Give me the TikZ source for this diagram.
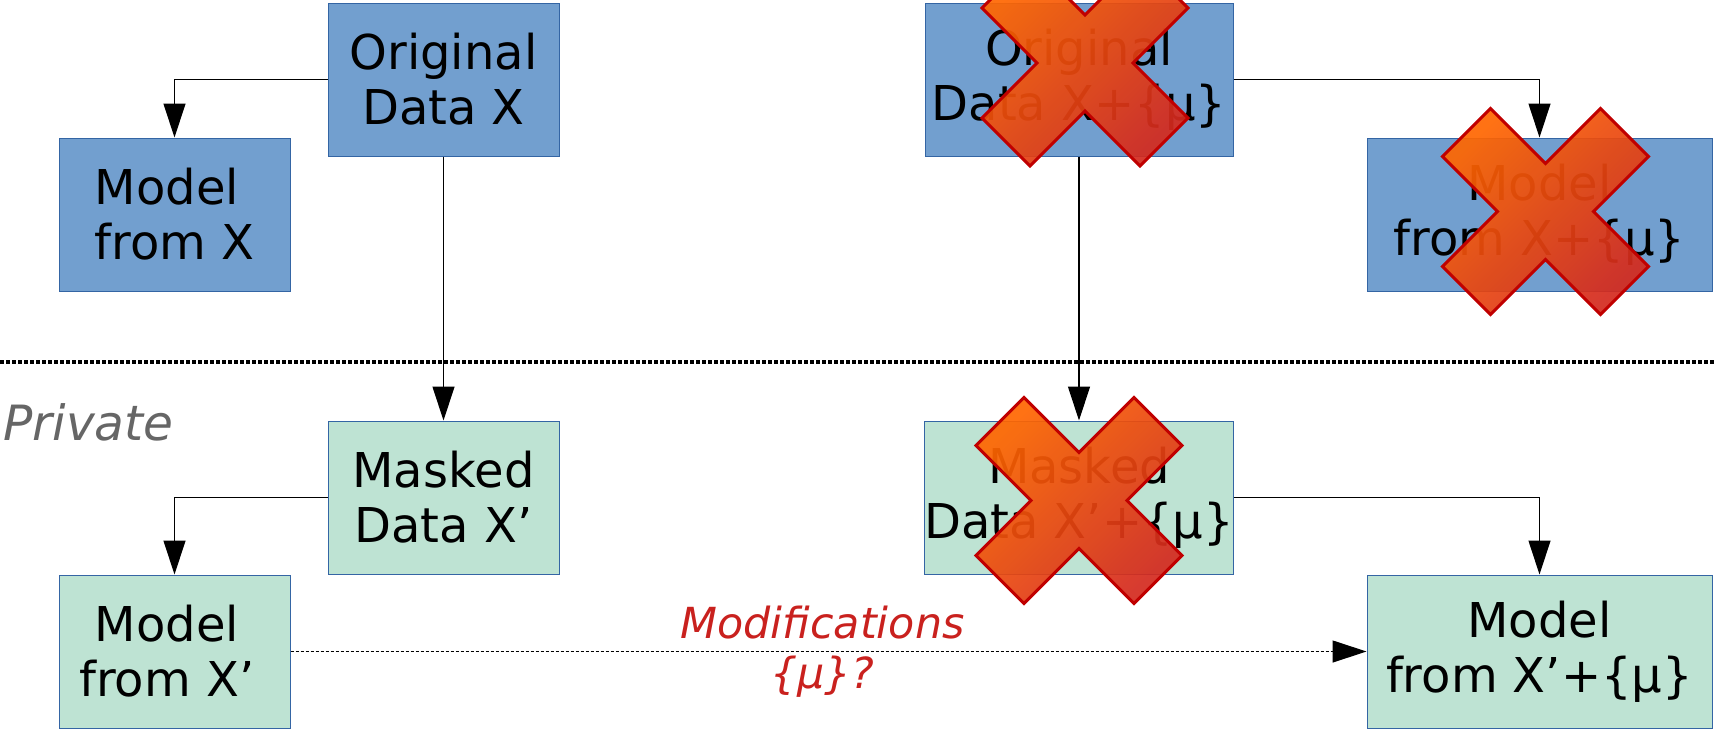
\documentclass[tikz,border=0pt]{standalone}
\usepackage{fontspec}
\setmainfont{DejaVu Sans}
\usetikzlibrary{arrows.meta}

\definecolor{boxblue}{HTML}{729FCF}
\definecolor{boxgreen}{HTML}{BEE3D3}
\definecolor{edgeblue}{HTML}{3465A4}
\definecolor{crossorange}{HTML}{FF6600}
\definecolor{crossred}{HTML}{D42A1E}
\definecolor{crossedge}{HTML}{C00000}
\definecolor{labelred}{HTML}{C9211E}
\definecolor{privgray}{HTML}{666666}

\begin{document}
\begin{tikzpicture}[x=0.5pt,y=-0.5pt,
  box/.style={draw=edgeblue, line width=0.5pt, align=center, inner sep=0pt,
    font=\fontsize{24}{27.5}\selectfont, text=black},
  pubbox/.style={box, fill=boxblue},
  privbox/.style={box, fill=boxgreen},
  narrowbox/.style={minimum width=115.5pt, minimum height=76.5pt},
  midbox/.style={minimum width=154pt, minimum height=76.5pt},
  widebox/.style={minimum width=172.5pt, minimum height=76.5pt},
  conn/.style={line width=0.6pt, -{Triangle[width=11pt,length=17pt]}},
  dashconn/.style={conn, line width=0.6pt, dash pattern=on 1.5pt off 1pt},
  sepline/.style={line width=1.6pt, dash pattern=on 1.75pt off 1.25pt},
  modlabel/.style={font=\fontsize{21.4}{25}\selectfont\itshape, text=labelred,
    align=center, inner sep=0pt},
  crossfill/.style={draw=crossedge, line width=1.5pt, line join=miter,
    top color=crossorange, bottom color=crossred, shading angle=45,
    fill opacity=0.92},
  crossmark/.pic={
    \path[crossfill] (-103,-55) -- (-55,-103) -- (0,-48) -- (55,-103)
      -- (103,-55) -- (48,0) -- (103,55) -- (55,103) -- (0,48)
      -- (-55,103) -- (-103,55) -- (-48,0) -- cycle;
  }
]
\useasboundingbox (0,0) rectangle (1715,729);

% public side
\node[pubbox, narrowbox] (odx)  at (443.5,79.5)  {Original\\Data X};
\node[pubbox, narrowbox] (mx)   at (174.5,214.5) {Model\hspace*{0.32em}\\from X};
\node[pubbox, midbox]    (odxm) at (1079,79.5)   {Original\\Data X+\{µ\}};
\node[pubbox, widebox]   (mxm)  at (1539.5,214.5) {Model\\from X+\{µ\}};

% separator between public and private parts
\coordinate (sepL) at (0,362);
\coordinate (sepR) at (1715,362);
\draw[sepline] (sepL) -- (sepR);
\node[anchor=base west, inner sep=0pt, font=\fontsize{24.3}{29}\selectfont\itshape,
  text=privgray] (private) at (3,440) {Private};

% private side
\node[privbox, narrowbox] (mdx)  at (443.5,497.5) {Masked\\Data X’};
\node[privbox, narrowbox] (mxp)  at (174.5,651.5) {Model\hspace*{0.32em}\\from X’\hspace*{0.32em}};
\node[privbox, midbox]    (mdxm) at (1079,497.5)  {Masked\\Data X’+\{µ\}};
\node[privbox, widebox]   (mxpm) at (1539.5,651.5) {Model\\from X’+\{µ\}};

% connectors
\draw[conn] (odx.west) -| (mx.north);
\draw[conn] (odx.south) -- (mdx.north);
\draw[conn] (mdx.west) -| (mxp.north);
\draw[conn] (odxm.east) -| (mxm.north);
\draw[conn] (odxm.south) -- (mdxm.north);
\draw[conn] (mdxm.east) -| (mxpm.north);
\draw[dashconn] (mxp.east) -- node[modlabel, xshift=-3pt] (mods) {Modifications\\\{µ\}?} (mxpm.west);

% crossed-out items
\pic (crossA) at (1085,63) {crossmark};
\pic (crossB) at (1545.5,211.5) {crossmark};
\pic (crossC) at (1079,500.5) {crossmark};
\end{tikzpicture}
\end{document}
